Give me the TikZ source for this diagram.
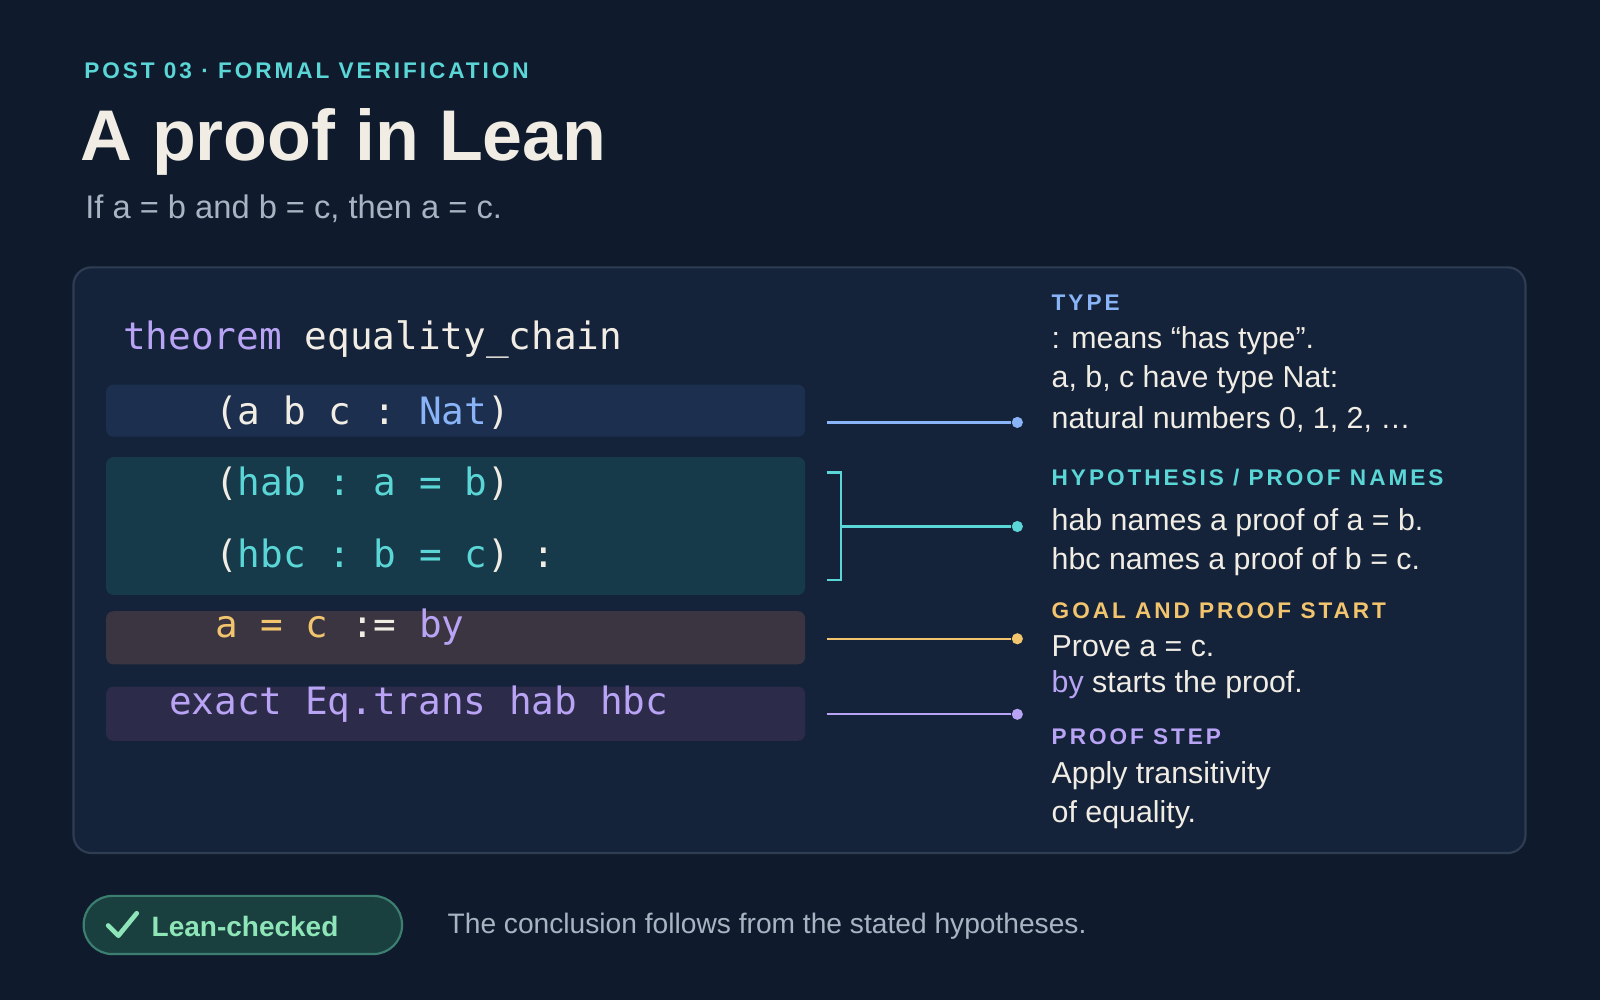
\documentclass[tikz,border=0pt]{standalone}
\usepackage{fontspec}
\setmainfont{Liberation Sans}
\setmonofont{DejaVu Sans Mono}
\usetikzlibrary{positioning}
\definecolor{bgc}{HTML}{0F1B2D}
\definecolor{panelc}{HTML}{14233A}
\definecolor{borderc}{HTML}{2E3D52}
\definecolor{cyanc}{HTML}{5BD6D6}
\definecolor{bluec}{HTML}{8AB4F8}
\definecolor{yellowc}{HTML}{F2C46D}
\definecolor{purplec}{HTML}{B9A3F5}
\definecolor{whitec}{HTML}{F1EDE4}
\definecolor{greyc}{HTML}{A9B4C2}
\definecolor{rowa}{HTML}{1C2F4F}
\definecolor{rowb}{HTML}{173A4A}
\definecolor{rowc}{HTML}{3A3541}
\definecolor{rowd}{HTML}{2D2B4A}
\definecolor{greenc}{HTML}{8EE6B8}
\definecolor{badgec}{HTML}{1A3F3F}
\definecolor{badgeb}{HTML}{3C7F70}
\begin{document}
\begin{tikzpicture}[x=0.01cm,y=-0.01cm,
  code/.style={anchor=west, inner sep=0pt, font=\ttfamily\fontsize{10.5}{12}\selectfont, text=whitec},
  tag/.style={anchor=west, inner sep=0pt, font=\bfseries\fontsize{6.3}{7}\selectfont\addfontfeatures{LetterSpace=13}},
  note/.style={anchor=west, inner sep=0pt, font=\fontsize{8.45}{10}\selectfont, text=whitec},
  row/.style={fill=#1, rounded corners=2pt},
  conn/.style={draw=#1, line width=0.6pt},
  dot/.style={fill=#1, circle, inner sep=1.1pt},
  ]
  \fill[bgc] (0,0) rectangle (1568,980);
  \useasboundingbox (0,0) rectangle (1568,980);

  % header
  \node[tag, text=cyanc] (kicker) at (82,69) {POST 03 · FORMAL VERIFICATION};
  \node[anchor=west, inner sep=0pt, text=whitec, font=\bfseries\fontsize{20}{24}\selectfont] (title) at (78,139) {A proof in Lean};
  \node[anchor=west, inner sep=0pt, text=greyc, font=\fontsize{9.1}{10}\selectfont] (sub) at (83,205) {If a = b and b = c, then a = c.};

  % panel
  \draw[fill=panelc, draw=borderc, line width=0.6pt, rounded corners=5pt] (72,262) rectangle (1495,836);

  % code rows
  \fill[row=rowa] (104,377) rectangle (789,428);
  \fill[row=rowb] (104,448) rectangle (789,583);
  \fill[row=rowc] (104,599) rectangle (789,651);
  \fill[row=rowd] (104,673) rectangle (789,726);

  \node[code] (thm) at (120,333) {\textcolor{purplec}{theorem} equality\_chain};
  \node[code] (args) at (210,404) {(a b c : \textcolor{bluec}{Nat})};
  \node[code] (hab) at (210,474) {(\textcolor{cyanc}{hab : a = b})};
  \node[code] (hbc) at (210,545) {(\textcolor{cyanc}{hbc : b = c}) :};
  \node[code] (goal) at (210,615) {\textcolor{yellowc}{a = c} := \textcolor{purplec}{by}};
  \node[code, text=purplec] (step) at (165,690) {exact Eq.trans hab hbc};

  % connectors
  \coordinate (ta) at (810,414); \node[dot=bluec] (da) at (997,414) {};
  \coordinate (tb1) at (810,463); \coordinate (tb2) at (810,568);
  \coordinate (tbm) at (824,516); \node[dot=cyanc] (db) at (997,516) {};
  \coordinate (tc) at (810,626); \node[dot=yellowc] (dc) at (997,626) {};
  \coordinate (td) at (810,700); \node[dot=purplec] (dd) at (997,700) {};
  \draw[conn=bluec] (ta) -- (da);
  \draw[conn=cyanc] (tb1) -| (tbm) |- (tb2);
  \draw[conn=cyanc] (tbm) -- (db);
  \draw[conn=yellowc] (tc) -- (dc);
  \draw[conn=purplec] (td) -- (dd);

  % notes
  \node[tag, text=bluec] (typetag) at (1030,297) {TYPE};
  \node[note] (ty1) at (1030,334) {: means “has type”.};
  \node[note] (ty2) at (1030,372) {a, b, c have type Nat:};
  \node[note] (ty3) at (1030,411) {natural numbers 0, 1, 2, …};
  \node[tag, text=cyanc] (hyptag) at (1030,468) {HYPOTHESIS / PROOF NAMES};
  \node[note] (hy1) at (1030,512) {hab names a proof of a = b.};
  \node[note] (hy2) at (1030,550) {hbc names a proof of b = c.};
  \node[tag, text=yellowc] (goaltag) at (1030,599) {GOAL AND PROOF START};
  \node[note] (go1) at (1030,633) {Prove a = c.};
  \node[note] (go2) at (1030,671) {\textcolor{purplec}{by} starts the proof.};
  \node[tag, text=purplec] (steptag) at (1030,722) {PROOF STEP};
  \node[note] (st1) at (1030,760) {Apply transitivity};
  \node[note] (st2) at (1030,798) {of equality.};

  % footer
  \draw[fill=badgec, draw=badgeb, line width=0.6pt, rounded corners=8pt] (82,878) rectangle (394,935);
  \draw[greenc, line width=1.3pt, line cap=round, line join=round] (106,907) -- (116,917) -- (134,895);
  \node[anchor=west, inner sep=0pt, text=greenc, font=\bfseries\fontsize{7.8}{10}\selectfont] (badge) at (148,908) {Lean-checked};
  \node[anchor=west, inner sep=0pt, text=greyc, font=\fontsize{7.85}{10}\selectfont] (foot) at (438,908) {The conclusion follows from the stated hypotheses.};
\end{tikzpicture}
\end{document}
